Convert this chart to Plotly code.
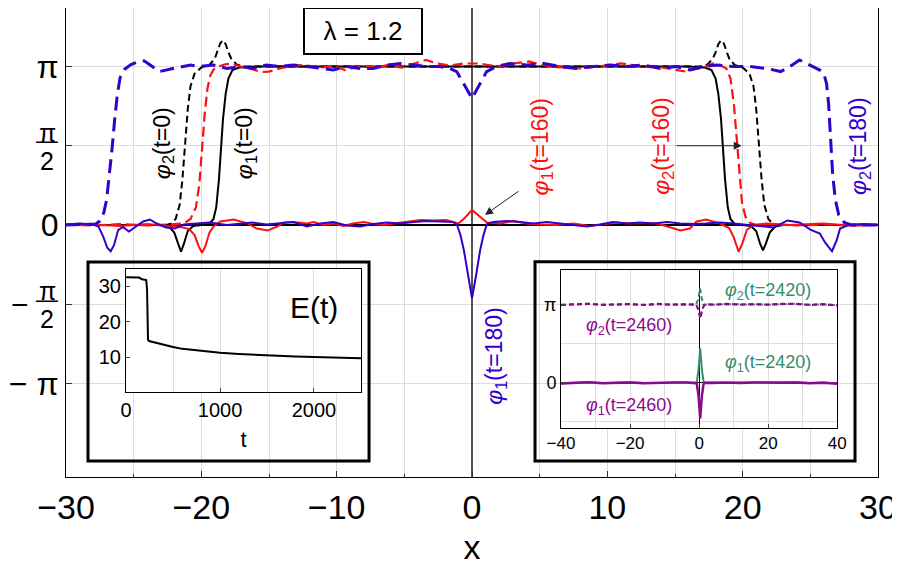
import math
import plotly.graph_objects as go

PI = math.pi

# ---------------- main panel data: (x, phi) ----------------
phi1_t0 = [(-30, 0), (-23, 0), (-22.4, -0.03), (-22.0, -0.15), (-21.7, -0.38), (-21.5, -0.53),
           (-21.3, -0.38), (-21.0, -0.12), (-20.6, -0.02), (-20.0, 0), (-19.4, 0.02), (-19.1, 0.12),
           (-18.9, 0.35), (-18.7, 0.9), (-18.55, 1.5), (-18.4, 2.1), (-18.2, 2.6), (-18.0, 2.9),
           (-17.7, 3.07), (-17.2, 3.12), (-16, 3.14), (16, 3.14), (17.2, 3.12), (17.7, 3.07),
           (18.0, 2.9), (18.2, 2.6), (18.4, 2.1), (18.55, 1.5), (18.7, 0.9), (18.9, 0.35),
           (19.1, 0.12), (19.4, 0.02), (20.0, 0), (20.6, -0.02), (21.0, -0.12), (21.3, -0.38),
           (21.5, -0.5), (21.7, -0.38), (22.0, -0.15), (22.4, -0.03), (23, 0), (30, 0)]

phi2_t0 = [(-30, 0), (-22.6, 0), (-22.2, 0.03), (-21.9, 0.12), (-21.6, 0.4), (-21.4, 0.9),
           (-21.2, 1.6), (-21.0, 2.3), (-20.8, 2.75), (-20.5, 3.0), (-20.0, 3.12), (-19.4, 3.17),
           (-19.0, 3.3), (-18.8, 3.45), (-18.6, 3.6), (-18.4, 3.66), (-18.2, 3.58), (-18.0, 3.42),
           (-17.8, 3.3), (-17.4, 3.18), (-16.8, 3.14), (16.8, 3.14), (17.4, 3.18), (17.8, 3.3),
           (18.0, 3.42), (18.2, 3.58), (18.4, 3.66), (18.6, 3.6), (18.8, 3.45), (19.0, 3.3),
           (19.4, 3.17), (20.0, 3.12), (20.5, 3.0), (20.8, 2.75), (21.0, 2.3), (21.2, 1.6),
           (21.4, 0.9), (21.6, 0.4), (21.9, 0.12), (22.2, 0.03), (22.6, 0), (30, 0)]

phi1_t160 = [(-30, 0), (-28, 0.01), (-26, -0.02), (-24, 0.02), (-22.5, -0.02), (-21.5, -0.04),
             (-20.9, -0.08), (-20.5, -0.2), (-20.2, -0.42), (-19.95, -0.55), (-19.7, -0.42),
             (-19.4, -0.15), (-19.1, -0.03), (-18.6, 0.07), (-17.6, 0.11), (-16.6, 0.03),
             (-15.9, -0.07), (-15.1, -0.11), (-14.4, -0.03), (-13.9, 0.05), (-13.2, 0.06),
             (-12.2, 0.03), (-11.7, 0.06), (-11.0, 0.0), (-10.2, 0.03), (-9.5, -0.02), (-8.8, 0.03),
             (-8.0, 0.06), (-7.3, 0.02), (-6.5, 0.0), (-5.8, 0.03), (-4.8, 0.06), (-3.8, 0.1),
             (-2.8, 0.09), (-1.9, 0.1), (-1.0, 0.03), (-0.5, 0.15), (0, 0.3), (0.55, 0.17),
             (1.1, 0.05), (2.1, 0.03), (3.1, 0.08), (4.0, 0.03), (5.0, 0.01), (6.3, 0.0),
             (7.5, 0.03), (8.7, -0.02), (9.7, 0.02), (10.7, 0.05), (11.7, 0.03), (12.7, 0.04),
             (13.7, 0.03), (14.4, -0.03), (15.4, -0.11), (16.1, -0.07), (16.6, 0.07), (17.3, 0.11),
             (18.3, 0.03), (19.0, -0.06), (19.35, -0.25), (19.7, -0.53), (20.0, -0.35),
             (20.3, -0.1), (20.8, 0.0), (21.8, 0.03), (23.5, 0.0), (25.9, 0.03), (28, -0.01), (30, 0)]

phi2_t160 = [(-30, 0.01), (-28, -0.01), (-26, 0.02), (-24, -0.01), (-22.5, 0.01), (-21.3, 0.03),
             (-20.8, 0.12), (-20.4, 0.35), (-20.15, 0.8), (-19.95, 1.5), (-19.75, 2.2),
             (-19.55, 2.7), (-19.35, 2.95), (-19.1, 3.08), (-18.8, 3.13), (-18.3, 3.18),
             (-17.8, 3.2), (-17.1, 3.14), (-16.4, 3.1), (-15.6, 3.03), (-15.0, 3.04), (-14.2, 3.1),
             (-13.4, 3.15), (-12.6, 3.17), (-11.8, 3.14), (-11.0, 3.12), (-10.2, 3.16), (-9.4, 3.07),
             (-8.6, 3.12), (-7.8, 3.15), (-7.0, 3.12), (-6.2, 3.17), (-5.2, 3.12), (-4.2, 3.2),
             (-3.4, 3.27), (-2.6, 3.2), (-1.6, 3.16), (-0.6, 3.2), (0.4, 3.2), (1.2, 3.17),
             (2.1, 3.14), (3.1, 3.2), (4.2, 3.24), (5.2, 3.17), (6.1, 3.13), (7.0, 3.12),
             (8.0, 3.10), (9.0, 3.13), (10.0, 3.17), (11.0, 3.2), (11.9, 3.17), (13.0, 3.13),
             (14.0, 3.12), (15.0, 3.07), (15.8, 3.04), (16.4, 3.08), (17.1, 3.12), (17.8, 3.2),
             (18.3, 3.17), (18.8, 3.1), (19.1, 2.9), (19.35, 2.4), (19.55, 1.7), (19.75, 1.0),
             (19.95, 0.45), (20.2, 0.17), (20.5, 0.05), (21.0, 0.0), (22, 0.02), (24, -0.01),
             (26, 0.01), (28, -0.01), (30, 0.01)]

phi1_t180 = [(-30, 0.01), (-29, 0.03), (-28, 0.01), (-27.6, -0.03), (-27.25, -0.23), (-26.95, -0.45),
             (-26.7, -0.52), (-26.45, -0.4), (-26.15, -0.1), (-25.8, -0.04), (-25.35, -0.13),
             (-24.9, -0.04), (-24.3, 0.07), (-23.8, 0.11), (-23.3, 0.03), (-22.6, -0.05),
             (-21.95, -0.07), (-21.3, 0.01), (-20.6, 0.03), (-19.4, 0.05), (-18.1, 0.0),
             (-17.1, 0.03), (-16.2, 0.05), (-15.2, 0.01), (-14.2, 0.03), (-13.2, 0.06),
             (-12.2, -0.03), (-11.2, 0.03), (-10.25, 0.06), (-9.26, -0.01), (-8.28, -0.03),
             (-7.3, 0.02), (-6.3, 0.05), (-5.3, 0.03), (-4.3, 0.06), (-3.35, 0.08), (-2.37, 0.07),
             (-1.4, 0.06), (-1.1, 0.0), (-0.85, -0.2), (-0.6, -0.5), (-0.3, -1.0), (0, -1.45),
             (0.3, -1.0), (0.6, -0.5), (0.85, -0.2), (1.1, 0.02), (1.57, 0.06), (2.56, 0.08),
             (3.55, 0.06), (4.53, 0.03), (5.52, 0.06), (6.5, 0.03), (7.49, -0.01), (8.48, -0.03),
             (9.46, 0.01), (10.4, 0.06), (11.4, 0.03), (12.4, 0.05), (13.4, 0.03), (14.4, 0.06),
             (15.4, 0.03), (16.4, 0.02), (17.3, 0.03), (18.3, 0.05), (19.3, 0.03), (20.3, 0.0),
             (21.3, -0.03), (22.3, -0.05), (23.3, 0.09), (24.2, 0.05), (25.0, -0.09),
             (25.7, -0.17), (26.1, -0.35), (26.6, -0.52), (26.95, -0.3), (27.2, -0.07),
             (27.9, 0.01), (29, 0.02), (30, 0)]

phi2_t180 = [(-30, 0.0), (-28.5, 0.01), (-27.8, 0.02), (-27.5, 0.08), (-27.2, 0.25), (-27.0, 0.5),
             (-26.8, 0.95), (-26.6, 1.5), (-26.4, 2.1), (-26.2, 2.6), (-26.0, 2.92), (-25.7, 3.08),
             (-25.2, 3.18), (-24.6, 3.24), (-24.2, 3.25), (-23.7, 3.15), (-23.1, 3.04),
             (-22.1, 3.10), (-20.8, 3.17), (-20.1, 3.14), (-19.1, 3.17), (-18.1, 3.1), (-17.1, 3.14),
             (-16.2, 3.1), (-15.2, 3.17), (-14.2, 3.14), (-13.2, 3.17), (-12.2, 3.14), (-11.2, 3.1),
             (-10.25, 3.07), (-9.26, 3.14), (-8.28, 3.1), (-7.3, 3.1), (-6.3, 3.17), (-5.3, 3.2),
             (-4.3, 3.17), (-3.35, 3.14), (-2.37, 3.14), (-1.63, 3.1), (-1.13, 3.04), (-0.64, 2.81),
             (0, 2.51), (0.47, 2.74), (1.08, 3.04), (1.82, 3.14), (2.8, 3.2), (4.1, 3.17),
             (5.3, 3.2), (6.5, 3.14), (7.7, 3.1), (9.0, 3.14), (10.2, 3.17), (11.4, 3.14),
             (12.7, 3.17), (13.9, 3.1), (15.1, 3.14), (16.1, 3.07), (17.1, 3.14), (18.1, 3.17),
             (19.3, 3.14), (20.5, 3.14), (21.8, 3.1), (22.8, 3.04), (23.5, 3.14), (24.2, 3.27),
             (25.0, 3.17), (25.7, 3.07), (26.0, 3.0), (26.2, 2.8), (26.35, 2.4), (26.5, 1.7),
             (26.65, 1.0), (26.85, 0.5), (27.1, 0.2), (27.5, 0.05), (28, 0.0), (30, 0.0)]

# ---------------- inset 1: energy E(t) ----------------
energy_t = [0, 140, 170, 215, 224, 228, 234, 245, 300, 400, 500, 600, 800, 1000, 1200, 1500,
            1800, 2000, 2200, 2500]
energy_E = [32.5, 32.4, 31.9, 31.7, 29.0, 22.0, 15.0, 14.6, 14.2, 13.5, 12.9, 12.4, 11.8, 11.3,
            10.95, 10.55, 10.25, 10.1, 9.95, 9.75]

# ---------------- inset 2: late times ----------------
phi2_t2420 = [(-40, 3.12), (-36, 3.15), (-32, 3.17), (-28, 3.13), (-24, 3.14), (-20, 3.16),
              (-16, 3.12), (-12, 3.15), (-8, 3.13), (-4, 3.16), (-2, 3.13), (-0.9, 3.12),
              (-0.3, 3.35), (0.25, 3.78), (0.8, 3.35), (1.4, 3.1), (2.2, 3.15), (4, 3.13), (8, 3.15),
              (12, 3.14), (16, 3.16), (20, 3.13), (24, 3.15), (28, 3.17), (32, 3.13), (36, 3.14),
              (40, 3.11)]
phi2_t2460 = [(-40, 3.12), (-36, 3.14), (-32, 3.16), (-28, 3.12), (-24, 3.15), (-20, 3.15),
              (-16, 3.12), (-12, 3.16), (-8, 3.13), (-4, 3.15), (-2, 3.13), (-0.9, 3.14),
              (-0.3, 2.95), (0.35, 2.58), (0.9, 2.95), (1.5, 3.12), (2.2, 3.15), (4, 3.13), (8, 3.16),
              (12, 3.13), (16, 3.15), (20, 3.13), (24, 3.16), (28, 3.16), (32, 3.12), (36, 3.15),
              (40, 3.1)]
phi1_t2420 = [(-40, -0.02), (-36, 0.01), (-32, 0.02), (-28, -0.01), (-24, 0.01), (-20, 0.02),
              (-16, -0.01), (-12, 0.01), (-8, 0.0), (-4, 0.02), (-2, 0.0), (-0.7, 0.02),
              (-0.2, 0.5), (0.3, 1.38), (0.8, 0.5), (1.3, 0.03), (2, 0.0), (4, 0.02), (8, -0.01),
              (12, 0.01), (16, 0.02), (20, 0.0), (24, 0.01), (28, 0.02), (32, -0.01), (36, 0.01),
              (40, -0.03)]
phi1_t2460 = [(-40, -0.03), (-36, 0.0), (-32, 0.02), (-28, -0.02), (-24, 0.01), (-20, 0.01),
              (-16, -0.02), (-12, 0.0), (-8, 0.01), (-4, 0.01), (-2, -0.01), (-0.7, -0.02),
              (-0.2, -0.5), (0.3, -1.43), (0.8, -0.5), (1.3, -0.03), (2, 0.0), (4, -0.01),
              (8, 0.01), (12, -0.01), (16, 0.01), (20, -0.01), (24, 0.0), (28, 0.01), (32, -0.02),
              (36, 0.0), (40, -0.04)]

x_ticks_main = [-30, -20, -10, 0, 10, 20, 30]
y_ticks_main = [-PI, 0, PI]
y_ticktext_main = ["\u2212 \u03c0", "0", "\u03c0"]
y_half_ticks = [-PI / 2, PI / 2]

BLACK = "#000000"
RED = "#ff1010"
BLUE = "#3300cc"
GREEN = "#358d6c"
PURPLE = "#8a0a8a"
GRID = "#dcdcdc"
FONT = "Liberation Sans, Arial, sans-serif"

fig = go.Figure()


def add(data, color, width, dash, xa="x", ya="y"):
    xs = [p[0] for p in data]
    ys = [p[1] for p in data]
    fig.add_trace(go.Scatter(x=xs, y=ys, mode="lines", xaxis=xa, yaxis=ya,
                             line=dict(color=color, width=width, dash=dash),
                             showlegend=False, hoverinfo="skip"))


add(phi1_t0, BLACK, 2, "solid")
add(phi2_t0, BLACK, 2, "7px,4px")
add(phi1_t160, RED, 2, "solid")
add(phi2_t160, RED, 2.2, "10px,5px")
add(phi1_t180, BLUE, 2, "solid")
add(phi2_t180, BLUE, 3, "14px,7px")

fig.add_trace(go.Scatter(x=energy_t, y=energy_E, mode="lines", xaxis="x2", yaxis="y2",
                         line=dict(color=BLACK, width=2), showlegend=False, hoverinfo="skip"))

add(phi2_t2420, GREEN, 2, "5px,3px", "x3", "y3")
add(phi1_t2420, GREEN, 2, "solid", "x3", "y3")
add(phi2_t2460, PURPLE, 2.2, "5px,3px", "x3", "y3")
add(phi1_t2460, PURPLE, 2.5, "solid", "x3", "y3")

annotations = []


def label(text, x, y, color, size=23, angle=-90, xref="x", yref="y"):
    annotations.append(dict(text=text, x=x, y=y, xref=xref, yref=yref, showarrow=False,
                            textangle=angle, font=dict(size=size, color=color, family=FONT),
                            xanchor="center", yanchor="middle"))


phi = "<i>\u03c6</i>"
label(phi + "<sub>2</sub>(t=0)", -22.84, 1.62, BLACK)
label(phi + "<sub>1</sub>(t=0)", -16.78, 1.62, BLACK)
label(phi + "<sub>1</sub>(t=160)", 5.15, 1.55, RED)
label(phi + "<sub>2</sub>(t=160)", 14.12, 1.55, RED)
label(phi + "<sub>2</sub>(t=180)", 28.68, 1.55, BLUE)
label(phi + "<sub>1</sub>(t=180)", 1.78, -2.61, BLUE)

# arrows
annotations.append(dict(x=0.96, y=0.2, ax=3.55, ay=0.69, xref="x", yref="y", axref="x", ayref="y",
                        text="", showarrow=True, arrowhead=2, arrowsize=1.6, arrowwidth=1,
                        arrowcolor="#222"))
annotations.append(dict(x=19.93, y=PI / 2, ax=15.0, ay=PI / 2, xref="x", yref="y", axref="x",
                        ayref="y", text="", showarrow=True, arrowhead=2, arrowsize=1.6,
                        arrowwidth=1, arrowcolor="#222"))

# lambda box
annotations.append(dict(text="\u03bb = 1.2", x=-8.06, y=3.84, xref="x", yref="y", showarrow=False,
                        font=dict(size=26, color=BLACK, family=FONT), bordercolor=BLACK,
                        borderwidth=2, borderpad=5, bgcolor="white", width=106, height=34))

# fraction tick labels pi/2 and -pi/2 (numerator, bar, denominator)
FX = -0.0228
for base in y_half_ticks:
    annotations.append(dict(text="\u03c0", x=FX, y=base, yshift=13, xref="paper", yref="y",
                            showarrow=False, font=dict(size=25, color=BLACK, family=FONT),
                            xanchor="center", yanchor="middle"))
    annotations.append(dict(text="\u2014", x=FX, y=base, yshift=5, xref="paper", yref="y",
                            showarrow=False, font=dict(size=22, color=BLACK, family=FONT),
                            xanchor="center", yanchor="middle"))
    annotations.append(dict(text="2", x=FX, y=base, yshift=-15, xref="paper", yref="y",
                            showarrow=False, font=dict(size=25, color=BLACK, family=FONT),
                            xanchor="center", yanchor="middle"))
annotations.append(dict(text="\u2212", x=-0.0567, y=-PI / 2, xref="paper", yref="y",
                        showarrow=False, font=dict(size=30, color=BLACK, family=FONT),
                        xanchor="center", yanchor="middle"))

# inset labels
annotations.append(dict(text="E(t)", x=2000, y=24.1, xref="x2", yref="y2", showarrow=False,
                        font=dict(size=30, color=BLACK, family=FONT)))
label(phi + "<sub>2</sub>(t=2420)", 19.8, 3.65, GREEN, size=18, angle=0, xref="x3", yref="y3")
label(phi + "<sub>2</sub>(t=2460)", -20.2, 2.24, PURPLE, size=18, angle=0, xref="x3", yref="y3")
label(phi + "<sub>1</sub>(t=2420)", 19.8, 0.79, GREEN, size=18, angle=0, xref="x3", yref="y3")
label(phi + "<sub>1</sub>(t=2460)", -20.2, -0.96, PURPLE, size=18, angle=0, xref="x3", yref="y3")

shapes = []
# inset outer frames
shapes.append(dict(type="rect", xref="paper", yref="paper", x0=0.0271, x1=0.3732, y0=0.0341,
                   y1=0.4584, line=dict(color=BLACK, width=3)))
shapes.append(dict(type="rect", xref="paper", yref="paper", x0=0.5776, x1=0.9717, y0=0.0341,
                   y1=0.4591, line=dict(color=BLACK, width=3)))

fig.update_layout(
    width=892, height=561,
    margin=dict(l=58, r=22, t=0, b=92, autoexpand=False),
    paper_bgcolor="white", plot_bgcolor="white", showlegend=False,
    font=dict(family=FONT, color=BLACK),
    xaxis=dict(domain=[0, 1], range=[-30, 30], tickvals=x_ticks_main, ticks="inside", ticklen=6,
               tickcolor="#333", showgrid=True, gridcolor=GRID, gridwidth=1,
               minor=dict(dtick=5, tick0=0, ticks="inside", ticklen=3, showgrid=True,
                          gridcolor=GRID, tickcolor="#333"),
               zeroline=True, zerolinecolor="#555", zerolinewidth=1.5,
               showline=True, linecolor=BLACK, linewidth=1.2, mirror=False,
               tickfont=dict(size=34), title=dict(text="x", font=dict(size=34), standoff=10)),
    yaxis=dict(domain=[0, 1], range=[-4.992, 4.299], tickvals=y_ticks_main,
               ticktext=y_ticktext_main, ticks="inside", ticklen=6, tickcolor="#333",
               showgrid=True, gridcolor=GRID, gridwidth=1,
               minor=dict(tickvals=y_half_ticks, ticks="inside", ticklen=6, showgrid=True,
                          gridcolor=GRID, tickcolor="#333"),
               zeroline=True, zerolinecolor=BLACK,
               zerolinewidth=1.5, showline=True, linecolor=BLACK, linewidth=1.2, mirror=True,
               tickfont=dict(size=32)),
    xaxis2=dict(domain=[0.0739, 0.3633], anchor="y2", range=[0, 2500],
                tickvals=[0, 1000, 2000], ticks="inside", ticklen=4,
                minor=dict(tickvals=[500, 1500, 2500], showgrid=True, gridcolor=GRID),
                showgrid=True, gridcolor=GRID, zeroline=False, showline=True, linecolor=BLACK,
                linewidth=1, mirror=True, tickfont=dict(size=20),
                title=dict(text="t", font=dict(size=22), standoff=11)),
    yaxis2=dict(domain=[0.1812, 0.4435], anchor="x2", range=[0.3, 34.8], tickvals=[10, 20, 30],
                ticks="inside", ticklen=4, showgrid=False, zeroline=False, showline=True,
                linecolor=BLACK, linewidth=1, mirror=True, tickfont=dict(size=20)),
    xaxis3=dict(domain=[0.6096, 0.9499], anchor="y3", range=[-40, 40],
                tickvals=[-40, -20, 0, 20, 40], ticks="inside", ticklen=4,
                minor=dict(tickvals=[-30, -10, 10, 30], showgrid=True, gridcolor=GRID),
                showgrid=True, gridcolor=GRID, zeroline=True,
                zerolinecolor=BLACK, zerolinewidth=1.2, showline=True, linecolor=BLACK,
                linewidth=1, mirror=True, tickfont=dict(size=17)),
    yaxis3=dict(domain=[0.1051, 0.4414], anchor="x3", range=[-1.8, 4.52],
                tickvals=[0, PI], ticktext=["0", "\u03c0"],
                minor=dict(tickvals=y_half_ticks, showgrid=True, gridcolor=GRID),
                ticks="inside", ticklen=4, showgrid=True, gridcolor=GRID, zeroline=True,
                zerolinecolor=BLACK, zerolinewidth=1.2, showline=True, linecolor=BLACK,
                linewidth=1, mirror=True, tickfont=dict(size=18)),
    annotations=annotations,
    shapes=shapes,
)

fig.write_html("out.html")
